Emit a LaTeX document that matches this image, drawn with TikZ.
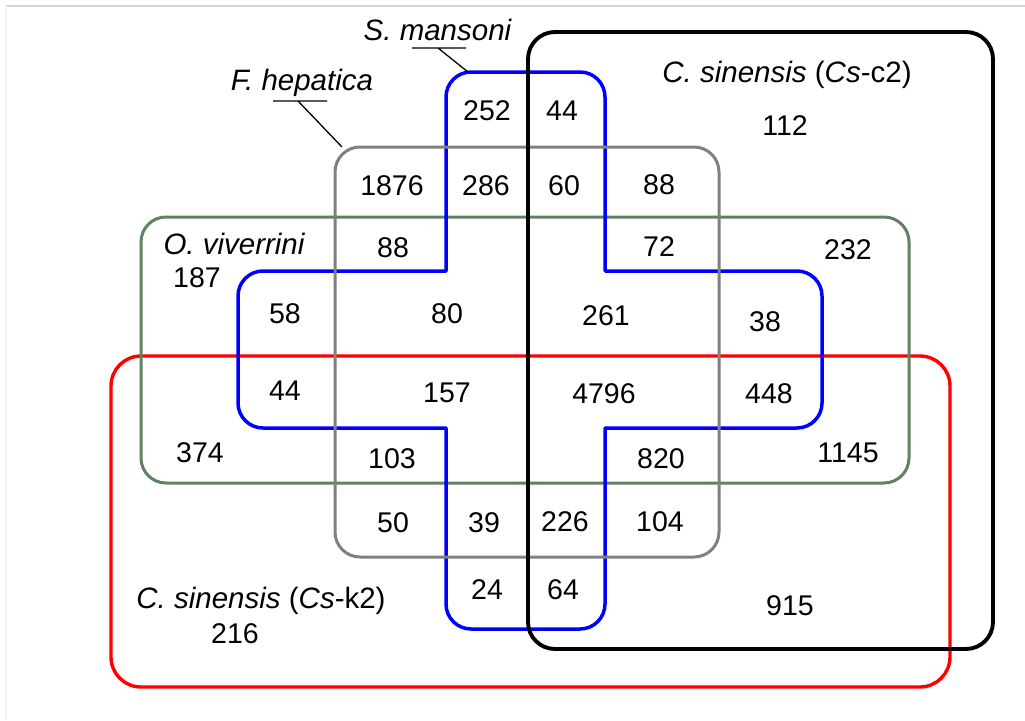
\documentclass[tikz,border=0pt]{standalone}
\usepackage{fontspec}
\setmainfont{Liberation Sans}
\definecolor{setgreen}{RGB}{96,130,96}
\definecolor{setgray}{RGB}{128,128,128}
\definecolor{setblue}{RGB}{0,0,255}
\definecolor{setred}{RGB}{255,0,0}
\definecolor{framegray}{RGB}{212,212,212}
\definecolor{faintgray}{RGB}{246,246,246}
\begin{document}
\begin{tikzpicture}[x=1pt,y=1pt,
  setline/.style={line width=3.2pt,line join=round},
  count/.style={anchor=base,inner sep=0pt,font=\fontsize{28.5}{33}\selectfont},
  setname/.style={anchor=base,inner sep=0pt,font=\fontsize{29.5}{34}\selectfont},
  callout/.style={line width=1.3pt,black}]
\useasboundingbox (0,0) rectangle (1025,-720);
\fill[white] (0,0) rectangle (1025,-720);
% thin frame remains at top and left
\draw[framegray,line width=1.5pt] (6,-6) -- (1025,-6);
\draw[faintgray,line width=1.2pt] (6,-6) -- (6,-720);

% C. sinensis (Cs-k2)
\draw[setline,setred,line width=3.4pt,rounded corners=30pt] (111,-356) rectangle (950,-687);
% O. viverrini
\draw[setline,setgreen,line width=3pt,rounded corners=25pt] (141,-217) rectangle (909,-483);
% S. mansoni (cross outline, outer corners rounded)
\draw[setline,setblue,line width=3.5pt]
  (446,-271) -- (446,-97) arc[start angle=180,end angle=90,radius=25]
  -- (580,-72) arc[start angle=90,end angle=0,radius=25]
  -- (605,-271) -- (797,-271) arc[start angle=90,end angle=0,radius=25]
  -- (822,-403) arc[start angle=0,end angle=-90,radius=25]
  -- (605,-428) -- (605,-604) arc[start angle=0,end angle=-90,radius=25]
  -- (471,-629) arc[start angle=270,end angle=180,radius=25]
  -- (446,-428) -- (263,-428) arc[start angle=270,end angle=180,radius=25]
  -- (238,-296) arc[start angle=180,end angle=90,radius=25] -- cycle;
% F. hepatica
\draw[setline,setgray,line width=3pt,rounded corners=25pt] (335,-147) rectangle (719,-557);
% C. sinensis (Cs-c2)
\draw[setline,black,line width=3.9pt,rounded corners=27pt] (528,-32) rectangle (993,-649);

% set names
\node[setname] (smlabel) at (437.5,-40) {\itshape S. mansoni};
\node[setname] (fhlabel) at (302,-90) {\itshape F. hepatica};
\node[setname] (cclabel) at (787,-82) {\textit{C. sinensis} (\textit{Cs}-c2)};
\node[setname] (ovlabel) at (234,-254) {\itshape O. viverrini};
\node[setname] (cklabel) at (261,-608) {\textit{C. sinensis} (\textit{Cs}-k2)};

% callout lines
\coordinate (smA) at (412,-48);
\coordinate (smB) at (466,-48);
\coordinate (smM) at (438,-48);
\coordinate (smT) at (468,-72);
\draw[callout] (smA) -- (smB) (smM) -- (smT);
\coordinate (fhA) at (273,-101);
\coordinate (fhB) at (327,-101);
\coordinate (fhM) at (298,-101);
\coordinate (fhT) at (342,-147);
\draw[callout] (fhA) -- (fhB) (fhM) -- (fhT);

% region counts
\node[count] (n112)  at (785,-135) {112};
\node[count] (n187)  at (197,-287) {187};
\node[count] (n216)  at (235,-643) {216};
\node[count] (n252)  at (487,-120) {252};
\node[count] (n44a)  at (562,-120) {44};
\node[count] (n1876) at (392,-195) {1876};
\node[count] (n286)  at (486,-195) {286};
\node[count] (n60)   at (564,-195) {60};
\node[count] (n88a)  at (659,-194) {88};
\node[count] (n88b)  at (393,-257) {88};
\node[count] (n72)   at (659,-256) {72};
\node[count] (n232)  at (848,-259) {232};
\node[count] (n58)   at (285,-323) {58};
\node[count] (n80)   at (447,-323) {80};
\node[count] (n261)  at (606,-325) {261};
\node[count] (n38)   at (765,-331) {38};
\node[count] (n44b)  at (285,-400) {44};
\node[count] (n157)  at (447,-402) {157};
\node[count] (n4796) at (604,-403) {4796};
\node[count] (n448)  at (769,-403) {448};
\node[count] (n374)  at (200,-462) {374};
\node[count] (n103)  at (392,-468) {103};
\node[count] (n820)  at (661,-468) {820};
\node[count] (n1145) at (848,-462) {1145};
\node[count] (n50)   at (393,-532) {50};
\node[count] (n39)   at (484,-532) {39};
\node[count] (n226)  at (565,-531) {226};
\node[count] (n104)  at (660,-531) {104};
\node[count] (n24)   at (487,-599) {24};
\node[count] (n64)   at (563,-599) {64};
\node[count] (n915)  at (790,-615) {915};
\end{tikzpicture}
\end{document}
